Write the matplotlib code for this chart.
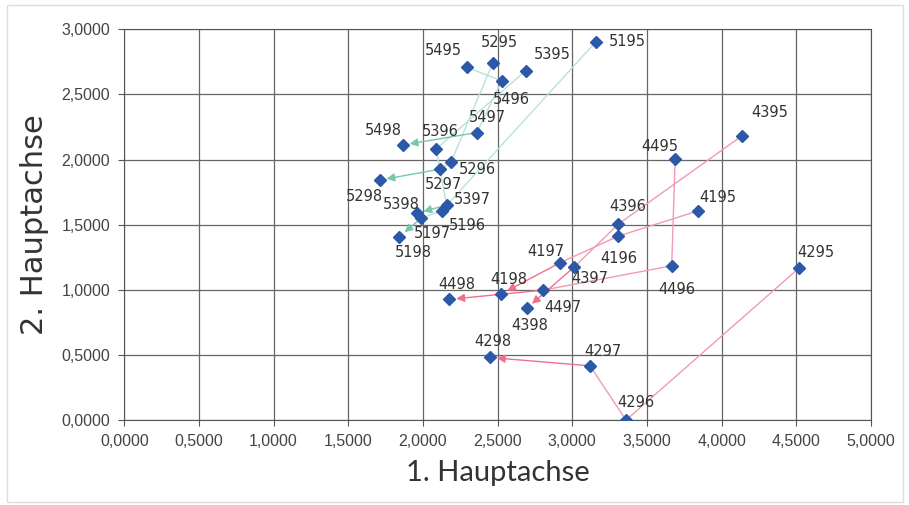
import matplotlib.pyplot as plt
from matplotlib.patches import Rectangle
from matplotlib.ticker import MultipleLocator, FuncFormatter

plt.rcParams["font.family"] = ["Liberation Sans", "DejaVu Sans"]

# years of each trajectory point (label = series id + year)
years = ["95", "96", "97", "98"]

# series 4x (pink trajectories)
s41_x = [3.845, 3.309, 2.918, 2.523]
s41_y = [1.607, 1.413, 1.208, 0.968]
s42_x = [4.521, 3.360, 3.119, 2.449]
s42_y = [1.170, 0.000, 0.417, 0.481]
s43_x = [4.135, 3.309, 3.014, 2.695]
s43_y = [2.181, 1.505, 1.177, 0.858]
s44_x = [3.689, 3.666, 2.806, 2.177]
s44_y = [2.002, 1.185, 0.998, 0.927]

# series 5x (teal trajectories)
s51_x = [3.159, 2.126, 1.987, 1.842]
s51_y = [2.905, 1.607, 1.549, 1.408]
s52_x = [2.467, 2.188, 2.114, 1.710]
s52_y = [2.740, 1.979, 1.926, 1.843]
s53_x = [2.689, 2.088, 2.159, 1.958]
s53_y = [2.683, 2.081, 1.651, 1.588]
s54_x = [2.293, 2.528, 2.360, 1.865]
s54_y = [2.709, 2.604, 2.207, 2.112]

series = {
    "41": (s41_x, s41_y), "42": (s42_x, s42_y),
    "43": (s43_x, s43_y), "44": (s44_x, s44_y),
    "51": (s51_x, s51_y), "52": (s52_x, s52_y),
    "53": (s53_x, s53_y), "54": (s54_x, s54_y),
}

# label offsets in pixels (layout only)
label_offset = {
    "5195": (31, 0), "5295": (7, 21), "5495": (-23, 17), "5395": (26, 16),
    "5496": (10, -19), "5497": (11, 15), "5498": (-19, 14), "5396": (4, 18),
    "5296": (26, -7), "5297": (3, -15), "5298": (-15, -16), "5397": (26, 6),
    "5398": (-15, 9), "5196": (26, -15), "5197": (11, -15), "5198": (14, -16),
    "4195": (19, 13), "4196": (0, -22), "4197": (-14, 11), "4198": (8, 15),
    "4295": (16, 15), "4296": (10, 18), "4297": (13, 14), "4298": (3, 16),
    "4395": (28, 23), "4396": (9, 18), "4397": (15, -12), "4398": (3, -17),
    "4495": (-15, 13), "4496": (5, -24), "4497": (20, -17), "4498": (7, 15),
}

line_col = {"4": "#f29ab3", "5": "#b8e3d6"}
head_col = {"4": "#f0708c", "5": "#78c6ac"}
marker_col = "#2c58a8"

fig = plt.figure(figsize=(9.09, 5.05), dpi=100)
ax = fig.add_axes([0.1367, 0.168, 0.8214, 0.774])

for sid, (xs, ys) in series.items():
    grp = sid[0]
    ax.plot(xs[:3], ys[:3], color=line_col[grp], lw=1.0, zorder=2)
    ax.annotate("", xy=(xs[3], ys[3]), xytext=(xs[2], ys[2]),
                arrowprops=dict(arrowstyle="-|>", color=line_col[grp], lw=1.0,
                                fc=head_col[grp], ec=head_col[grp],
                                mutation_scale=12, shrinkA=0, shrinkB=5),
                zorder=3)
    ax.plot(xs, ys, ls="none", marker="D", ms=6.5, color=marker_col, zorder=4)
    for x, y, yr in zip(xs, ys, years):
        name = sid + yr
        dx, dy = label_offset[name]
        ax.annotate(name, (x, y), xytext=(dx, dy), textcoords="offset pixels",
                    ha="center", va="center", fontsize=10.5, color="#333333",
                    family="DejaVu Sans", zorder=5)

ax.set_xlim(0, 5)
ax.set_ylim(0, 3)
ax.xaxis.set_major_locator(MultipleLocator(0.5))
ax.yaxis.set_major_locator(MultipleLocator(0.5))
fmt = FuncFormatter(lambda v, p: f"{v:.4f}".replace(".", ","))
ax.xaxis.set_major_formatter(fmt)
ax.yaxis.set_major_formatter(fmt)
ax.grid(True, color="#666666", lw=0.9)
ax.set_axisbelow(True)
for s in ax.spines.values():
    s.set_color("#555555")
ax.tick_params(direction="out", length=4, color="#555555", labelcolor="#444444",
               labelsize=11.5, pad=6)

ax.set_xlabel("1. Hauptachse", fontsize=21, color="#333333", labelpad=8,
              family="Lato")
ax.set_ylabel("2. Hauptachse", fontsize=22, color="#333333", labelpad=9,
              family="DejaVu Sans")

fig.patches.append(Rectangle((0.008, 0.006), 0.985, 0.985, transform=fig.transFigure,
                             fill=False, ec="#dddddd", lw=1.0))

fig.savefig("out.png", dpi=100)
